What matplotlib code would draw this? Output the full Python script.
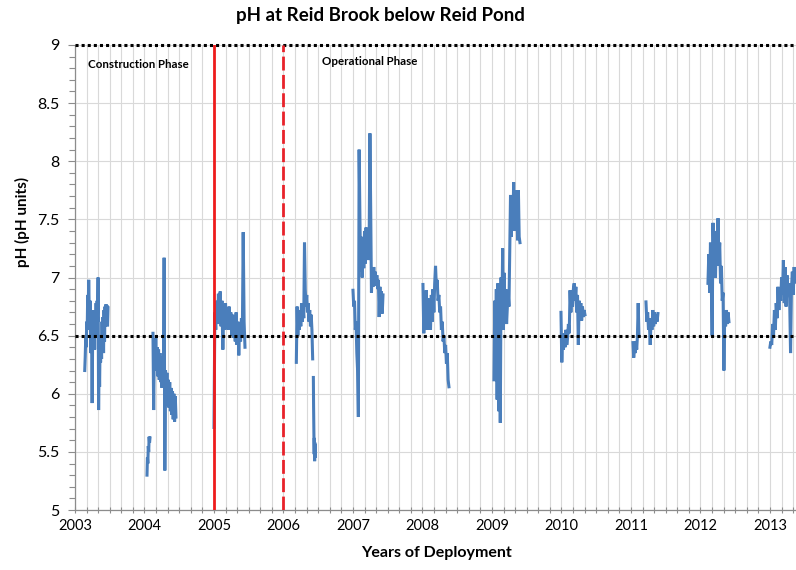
import numpy as np
import matplotlib
matplotlib.use("Agg")
import matplotlib.pyplot as plt
from matplotlib.ticker import MultipleLocator, FuncFormatter

plt.rcParams['font.family'] = ['Lato', 'DejaVu Sans']

# Deployment records: (start year, end year) and pH readings, evenly sampled in time
span_2003 = (2003.14, 2003.475)
ph_2003 = [6.20, 6.32, 6.48, 6.40, 6.62, 6.55, 6.85, 6.70, 6.98, 6.75, 6.60, 6.80,
           6.35, 6.70, 6.45, 5.92, 6.50, 6.72, 6.45, 6.68, 6.38, 6.70, 6.55, 6.78,
           6.48, 6.80, 6.62, 7.00, 5.86, 6.35, 6.06, 6.45, 6.27, 6.50, 6.30, 6.62,
           6.38, 6.66, 6.35, 6.72, 6.45, 6.75, 6.58, 6.77, 6.60, 6.76, 6.58, 6.74]

span_2004a = (2004.036, 2004.079)
ph_2004a = [5.30, 5.45, 5.40, 5.55, 5.50, 5.63, 5.58, 5.62]

span_2004b = (2004.122, 2004.453)
ph_2004b = [6.52, 5.86, 6.45, 6.20, 6.48, 6.25, 6.40, 6.15, 6.38, 6.12, 6.35, 6.10,
            6.30, 6.05, 6.32, 6.08, 7.17, 5.34, 6.20, 5.95, 6.18, 5.90, 6.12, 5.88,
            6.10, 5.85, 6.05, 5.82, 6.02, 5.78, 6.00, 5.76, 5.98, 5.80]

span_2005 = (2005.0, 2005.446)
ph_2005 = [5.71, 6.70, 6.55, 6.80, 6.60, 6.86, 6.62, 6.88, 6.58, 6.80, 6.38, 6.75,
           6.55, 6.78, 6.58, 6.72, 6.55, 6.75, 6.58, 6.70, 6.50, 6.68, 6.48, 6.66,
           6.45, 6.70, 6.42, 6.62, 6.33, 6.60, 6.45, 6.65, 6.50, 7.39, 6.62, 6.40]

span_2006a = (2006.185, 2006.42)
ph_2006a = [6.27, 6.75, 6.50, 6.68, 6.55, 6.72, 6.58, 6.78, 6.62, 6.75, 6.65, 7.30,
            6.90, 6.75, 6.85, 6.70, 6.78, 6.62, 6.72, 6.58, 6.68, 6.55, 6.30]

span_2006b = (2006.43, 2006.457)
ph_2006b = [6.14, 5.90, 5.75, 5.60, 5.48, 5.62, 5.42, 5.58, 5.45, 5.55]

span_2007 = (2007.0, 2007.432)
ph_2007 = [6.89, 6.75, 6.80, 6.55, 6.62, 6.35, 6.20, 5.80, 8.10, 7.52, 7.05, 7.35,
           7.00, 7.32, 7.08, 7.40, 7.12, 7.43, 7.18, 7.35, 7.15, 7.30, 8.24, 7.60,
           6.87, 7.05, 6.92, 7.09, 6.95, 7.05, 6.93, 7.02, 6.90, 6.98, 6.66, 6.92,
           6.70, 6.88, 6.69, 6.85]

span_2008 = (2008.007, 2008.381)
ph_2008 = [6.94, 6.52, 6.80, 6.60, 6.89, 6.55, 6.82, 6.58, 6.78, 6.55, 6.85, 6.62,
           6.90, 6.70, 6.95, 7.10, 6.92, 6.98, 6.80, 6.85, 6.70, 6.75, 6.55, 6.62,
           6.45, 6.50, 6.35, 6.42, 6.26, 6.35, 6.12, 6.06]

span_2009 = (2009.029, 2009.403)
ph_2009 = [6.12, 6.80, 6.30, 6.90, 5.95, 6.95, 5.85, 6.85, 5.75, 7.00, 6.60, 7.25,
           6.55, 7.04, 6.60, 6.90, 6.60, 6.75, 6.87, 6.75, 7.22, 7.71, 7.35, 7.70,
           7.45, 7.82, 7.40, 7.75, 7.45, 7.70, 7.32, 7.75, 7.35, 7.30]

span_2010 = (2009.993, 2010.338)
ph_2010 = [6.70, 6.27, 6.52, 6.38, 6.50, 6.40, 6.55, 6.42, 6.48, 6.60, 6.52, 6.89,
           6.70, 6.85, 6.75, 6.90, 6.95, 6.80, 6.92, 6.70, 6.85, 6.42, 6.80, 6.65,
           6.78, 6.63, 6.75, 6.66, 6.72, 6.68]

span_2011a = (2011.029, 2011.115)
ph_2011a = [6.44, 6.31, 6.40, 6.35, 6.45, 6.38, 6.50, 6.78, 6.50]

span_2011b = (2011.216, 2011.388)
ph_2011b = [6.79, 6.62, 6.70, 6.55, 6.60, 6.42, 6.65, 6.55, 6.72, 6.58, 6.70, 6.60,
            6.68, 6.62, 6.69]

span_2012 = (2012.108, 2012.41)
ph_2012 = [6.95, 7.20, 6.87, 7.30, 6.95, 6.50, 7.47, 7.05, 7.35, 7.00, 7.40, 7.10,
           7.51, 7.15, 7.30, 6.95, 7.10, 6.80, 6.87, 6.20, 6.70, 6.58, 6.72, 6.60,
           6.70, 6.62]

span_2013 = (2013.0, 2013.374)
ph_2013 = [6.40, 6.45, 6.42, 6.60, 6.50, 6.72, 6.55, 6.78, 6.65, 6.92, 6.72, 6.88,
           6.80, 7.00, 6.85, 7.15, 6.78, 7.09, 6.75, 7.02, 6.85, 6.95, 6.82, 6.35,
           6.90, 7.05, 6.85, 7.09, 6.95, 7.05]

deployments = [
    (span_2003, ph_2003), (span_2004a, ph_2004a), (span_2004b, ph_2004b),
    (span_2005, ph_2005), (span_2006a, ph_2006a), (span_2006b, ph_2006b),
    (span_2007, ph_2007), (span_2008, ph_2008), (span_2009, ph_2009),
    (span_2010, ph_2010), (span_2011a, ph_2011a), (span_2011b, ph_2011b),
    (span_2012, ph_2012), (span_2013, ph_2013),
]

year_ticks = list(range(2003, 2014))
guideline_upper = 9.0
guideline_lower = 6.5
construction_end = 2005
operation_start = 2006

fig = plt.figure(figsize=(7.96, 5.70), dpi=100)
ax = fig.add_axes([75 / 796, 60 / 570, 721 / 796, 465 / 570])

line_blue = '#4a7ebb'
for (t0, t1), vals in deployments:
    t = np.linspace(t0, t1, len(vals))
    ax.plot(t, vals, color=line_blue, lw=2.2, solid_joinstyle='miter', zorder=3)

ax.set_xlim(2003, 2013.375)
ax.set_ylim(5, 9)

# grid: vertical every two months, horizontal at major pH steps
ax.xaxis.set_minor_locator(MultipleLocator(1 / 6))
ax.yaxis.set_major_locator(MultipleLocator(0.5))
ax.yaxis.set_minor_locator(MultipleLocator(0.1))
ax.yaxis.set_major_formatter(FuncFormatter(lambda v, _: f'{v:g}'))
ax.set_xticks(year_ticks)
ax.set_xticklabels([str(y) for y in year_ticks])
ax.grid(which='both', axis='x', color='#d9d9d9', lw=0.8)
ax.grid(which='major', axis='y', color='#d9d9d9', lw=0.8)
ax.set_axisbelow(True)

for side in ('top', 'right'):
    ax.spines[side].set_visible(False)
for side in ('left', 'bottom'):
    ax.spines[side].set_color('#8c8c8c')
    ax.spines[side].set_linewidth(0.9)

ax.tick_params(axis='both', which='both', color='#8c8c8c', width=0.8)
ax.tick_params(axis='x', which='major', length=5, direction='inout', labelsize=10.5, pad=4)
ax.tick_params(axis='x', which='minor', length=4, direction='inout')
ax.tick_params(axis='y', which='major', length=5, direction='out', labelsize=11.5, pad=6)
ax.tick_params(axis='y', which='minor', length=4, direction='out')

# guideline limits
ax.axhline(guideline_upper, color='black', lw=2.2, ls=(0, (1, 1)), clip_on=False, zorder=4)
ax.axhline(guideline_lower, color='black', lw=2.2, ls=(0, (1, 1)), zorder=4)

# project phase boundaries
ax.axvline(construction_end, color='#ee1c1c', lw=2.0, zorder=4)
ax.axvline(operation_start, color='#e8222a', lw=2.0, ls=(0, (5, 1.6)), zorder=4)

ax.text(2003.19, 8.83, 'Construction Phase', fontsize=8.3, fontweight='bold',
        va='center', ha='left')
ax.text(2006.55, 8.86, 'Operational Phase', fontsize=8.3, fontweight='bold',
        va='center', ha='left')

fig.text(0.478, 0.972, 'pH at Reid Brook below Reid Pond', fontsize=13.5,
         fontweight='bold', ha='center', va='center')
fig.text(0.548, 0.030, 'Years of Deployment', fontsize=11.5, fontweight='bold',
         ha='center', va='center')
fig.text(0.028, 0.61, 'pH (pH units)', fontsize=11, fontweight='bold',
         ha='center', va='center', rotation=90)

fig.savefig('out.png', dpi=100)
